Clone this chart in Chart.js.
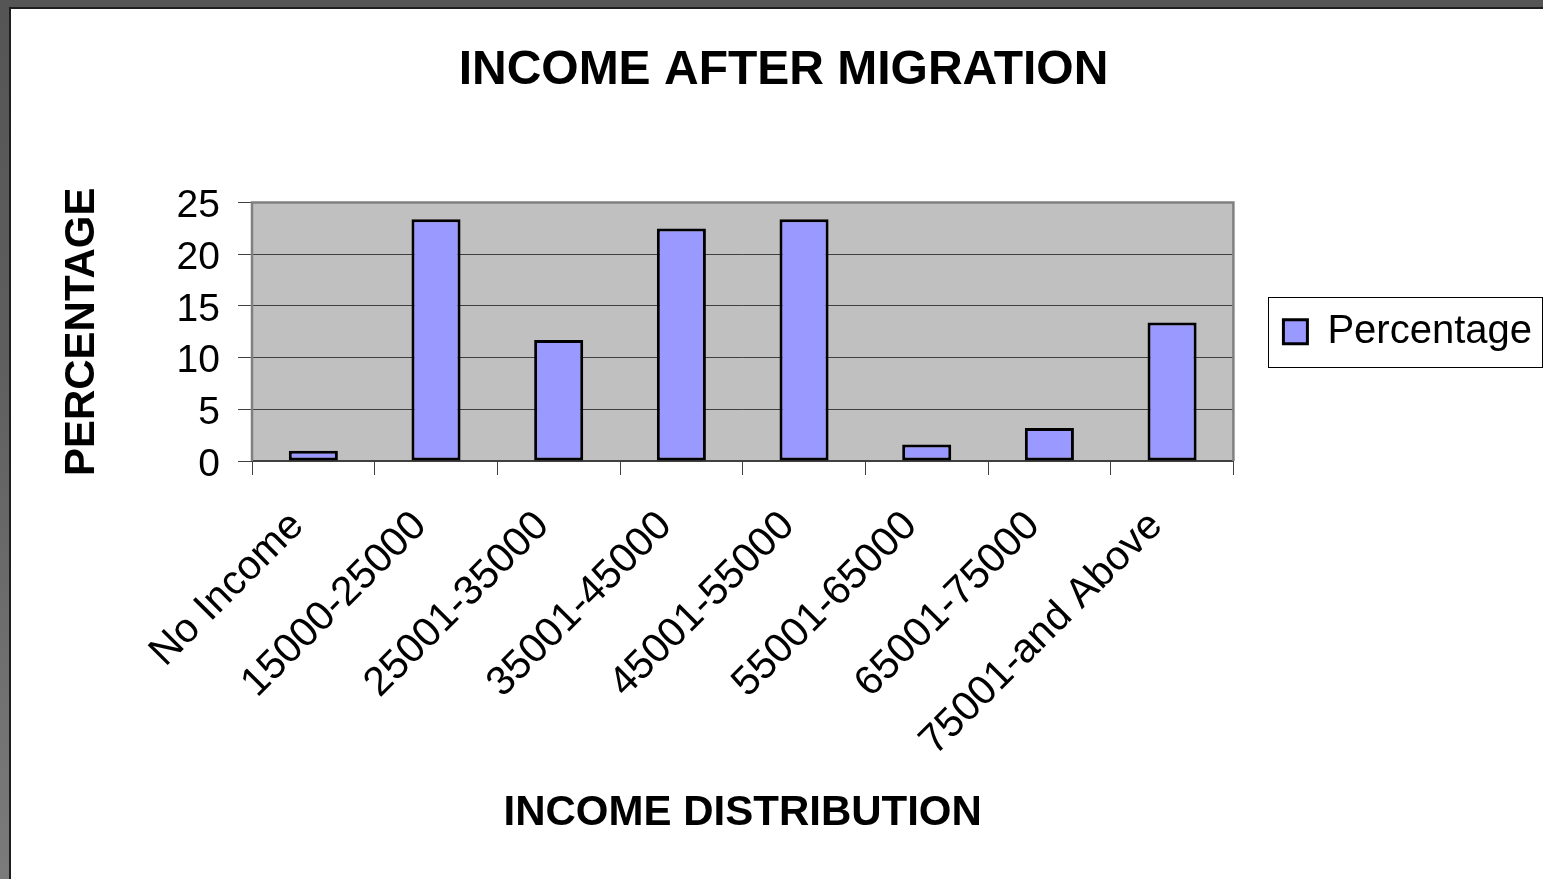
<!DOCTYPE html>
<html>
<head>
<meta charset="utf-8">
<script src="https://cdn.jsdelivr.net/npm/chart.js@4/dist/chart.umd.min.js"></script>
<style>
  html, body { margin: 0; padding: 0; }
  body { width: 1543px; height: 879px; overflow: hidden; position: relative;
         background: linear-gradient(to bottom, #555555 0%, #5e5e5e 40%, #7b7b7b 100%); }
  #frame { position: absolute; left: 9px; top: 7px; width: 1534px; height: 872px;
           border-left: 2px solid #1e1e1e; border-top: 2px solid #1e1e1e; background: #ffffff; box-sizing: border-box; }
  #c { position: absolute; left: 0; top: 0; }
</style>
</head>
<body>
<div id="frame"><canvas id="c" width="1532" height="870"></canvas></div>
<script>
const categories = ['No Income', '15000-25000', '25001-35000', '35001-45000', '45001-55000', '55001-65000', '65001-75000', '75001-and Above'];
const percentages = [1.0, 23.4, 11.7, 22.5, 23.4, 1.6, 3.2, 13.4];
const yTicks = [0, 5, 10, 15, 20, 25];
const seriesName = 'Percentage';
const chartTitle = 'INCOME AFTER MIGRATION';
const xTitle = 'INCOME DISTRIBUTION';
const yTitle = 'PERCENTAGE';

const FONT = "'Liberation Sans', Arial, sans-serif";

const plotDecor = {
  id: 'plotDecor',
  beforeDraw(chart) {
    const {ctx, chartArea: a} = chart;
    ctx.save();
    ctx.fillStyle = '#ffffff';
    ctx.fillRect(0, 0, chart.width, chart.height);
    ctx.fillStyle = '#C0C0C0';
    ctx.fillRect(a.left, a.top, a.right - a.left, a.bottom - a.top);
    ctx.restore();
  },
  beforeDatasetsDraw(chart) {
    const {ctx, chartArea: a} = chart;
    ctx.save();
    ctx.strokeStyle = '#808080';
    ctx.lineWidth = 2.5;
    ctx.beginPath();
    ctx.moveTo(a.left, a.bottom);
    ctx.lineTo(a.left, a.top);
    ctx.lineTo(a.right, a.top);
    ctx.lineTo(a.right, a.bottom);
    ctx.stroke();
    ctx.restore();
  },
  afterDraw(chart) {
    const lg = chart.legend;
    if (!lg || !lg.legendHitBoxes || !lg.legendHitBoxes.length) return;
    const hb = lg.legendHitBoxes[0];
    const {ctx} = chart;
    const cy = hb.top + hb.height / 2;
    const x0 = hb.left - 15;
    ctx.save();
    ctx.strokeStyle = '#000000';
    ctx.lineWidth = 1;
    ctx.strokeRect(Math.round(x0) + 0.5, Math.round(cy - 35) + 0.5, chart.width - Math.round(x0) - 1, 70);
    ctx.restore();
  }
};

new Chart(document.getElementById('c'), {
  type: 'bar',
  data: {
    labels: categories,
    datasets: [{
      label: seriesName,
      data: percentages,
      backgroundColor: '#9999FF',
      borderColor: '#000000',
      borderWidth: 3,
      borderSkipped: false,
      barPercentage: 0.4,
      categoryPercentage: 1.0
    }]
  },
  options: {
    responsive: false,
    devicePixelRatio: 1,
    animation: false,
    layout: { padding: { left: 14, right: 1, top: 0, bottom: 0 } },
    plugins: {
      tooltip: { enabled: false },
      title: {
        display: true,
        text: chartTitle,
        color: '#000000',
        font: { family: FONT, size: 48, weight: 'bold' },
        padding: { top: 33, bottom: 103 }
      },
      legend: {
        display: true,
        position: 'right',
        fullSize: false,
        labels: {
          color: '#000000',
          font: { family: FONT, size: 40 },
          boxWidth: 24,
          boxHeight: 24,
          padding: 50
        }
      }
    },
    scales: {
      x: {
        grid: { display: true, drawOnChartArea: false, drawTicks: true, tickLength: 14, tickColor: '#404040', offset: true },
        border: { display: true, color: '#404040', width: 2 },
        ticks: {
          color: '#000000',
          font: { family: FONT, size: 41 },
          maxRotation: 45, minRotation: 45, autoSkip: false, padding: 27, labelOffset: -16
        },
        title: {
          display: true, text: xTitle, color: '#000000',
          font: { family: FONT, size: 42, weight: 'bold' },
          padding: { top: 4, bottom: 40 }
        },
        afterFit(scale) { scale.height = 418; }
      },
      y: {
        min: 0, max: 25,
        afterBuildTicks(scale) { scale.ticks = yTicks.map(v => ({ value: v })); },
        grid: {
          color: (c) => (c.tick && c.tick.value === 25) ? 'rgba(0,0,0,0)' : '#404040',
          lineWidth: 1,
          tickLength: 14,
          tickColor: '#404040'
        },
        border: { display: false },
        ticks: {
          color: '#000000',
          font: { family: FONT, size: 39 },
          padding: 18,
          labelOffset: 4
        },
        title: {
          display: true, text: yTitle, color: '#000000',
          font: { family: FONT, size: 42, weight: 'bold' },
          padding: { top: 32, bottom: 0 }
        },
        afterFit(scale) { scale.width = 227; }
      }
    }
  },
  plugins: [plotDecor]
});
</script>
</body>
</html>
